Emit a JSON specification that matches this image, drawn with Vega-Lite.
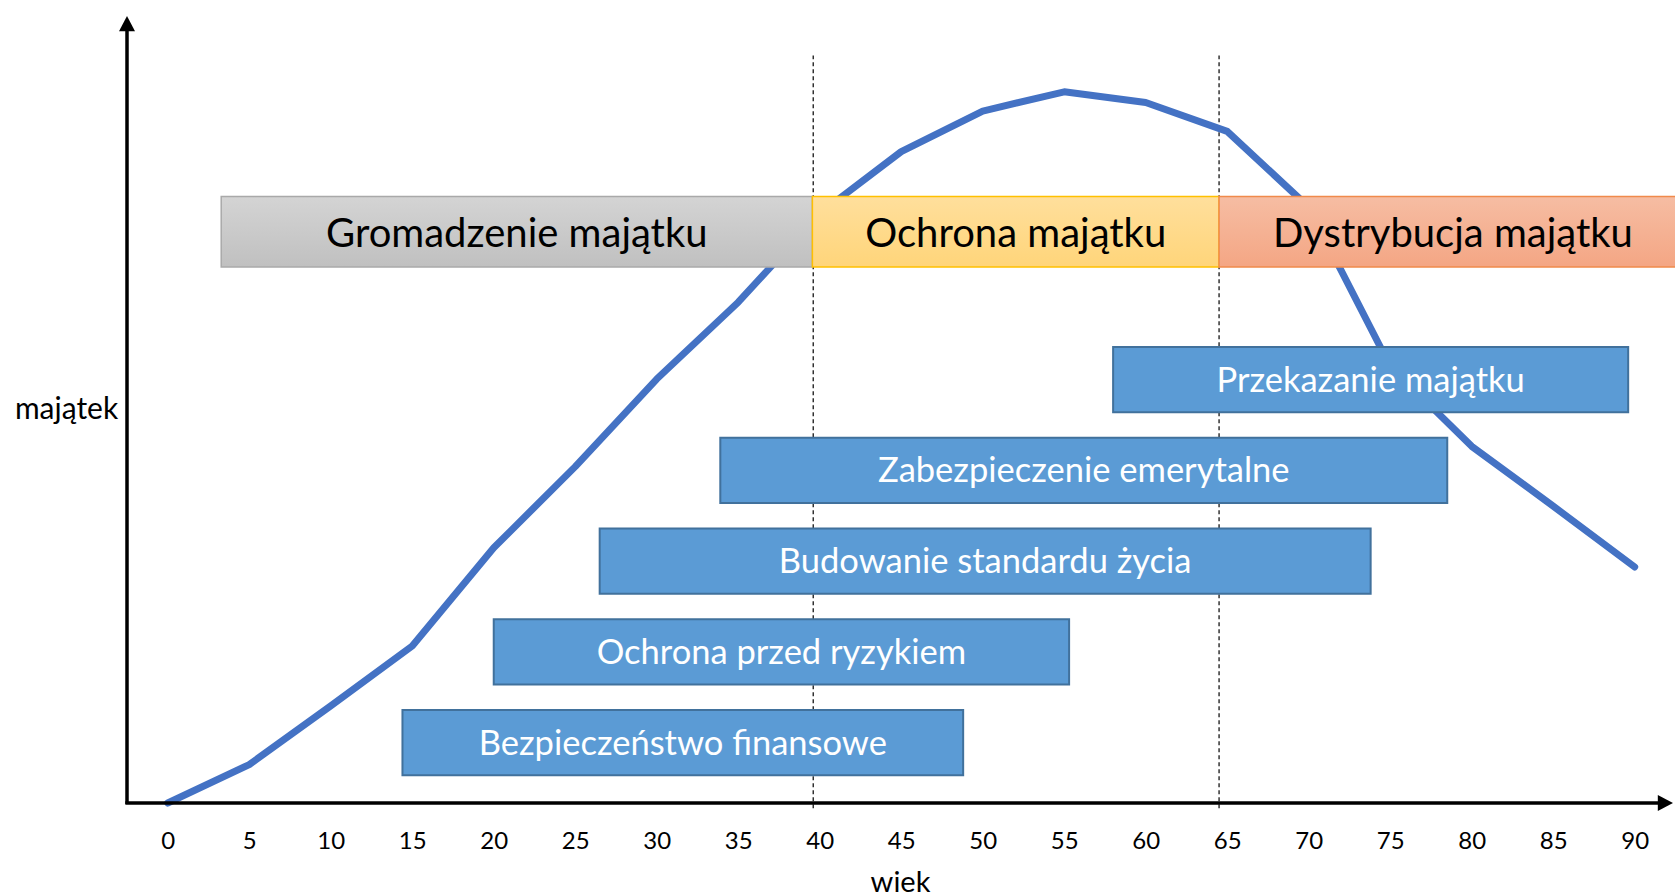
{
  "$schema": "https://vega.github.io/schema/vega-lite/v6.json",
  "width": 1546,
  "height": 787,
  "autosize": {"type": "none"},
  "padding": {"left": 127, "top": 16, "right": 2, "bottom": 93},
  "background": "white",
  "config": {"view": {"stroke": null}, "font": "Lato", "text": {"font": "Lato"}},
  "datasets": {
    "curve": [
      {"age": 0, "wealth": 0}, {"age": 5, "wealth": 36}, {"age": 10, "wealth": 91},
      {"age": 15, "wealth": 147}, {"age": 20, "wealth": 239}, {"age": 25, "wealth": 315},
      {"age": 30, "wealth": 397}, {"age": 35, "wealth": 469}, {"age": 40, "wealth": 552},
      {"age": 45, "wealth": 610}, {"age": 50, "wealth": 648}, {"age": 55, "wealth": 666},
      {"age": 60, "wealth": 656}, {"age": 65, "wealth": 629}, {"age": 70, "wealth": 558},
      {"age": 75, "wealth": 409}, {"age": 80, "wealth": 334}, {"age": 85, "wealth": 278},
      {"age": 90, "wealth": 221}
    ],
    "dividers": [{"age": 39.6}, {"age": 64.5}],
    "phases": [
      {"phase": "Gromadzenie majątku", "start": 3.28, "end": 39.55, "lo": 502, "hi": 568},
      {"phase": "Ochrona majątku", "start": 39.55, "end": 64.5, "lo": 502, "hi": 568},
      {"phase": "Dystrybucja majątku", "start": 64.5, "end": 93.2, "lo": 502, "hi": 568}
    ],
    "tasks": [
      {"task": "Przekazanie majątku", "start": 58.0, "end": 89.6, "lo": 366, "hi": 427},
      {"task": "Zabezpieczenie emerytalne", "start": 33.9, "end": 78.5, "lo": 281, "hi": 342},
      {"task": "Budowanie standardu życia", "start": 26.5, "end": 73.8, "lo": 196, "hi": 257},
      {"task": "Ochrona przed ryzykiem", "start": 20.0, "end": 55.3, "lo": 111, "hi": 172},
      {"task": "Bezpieczeństwo finansowe", "start": 14.4, "end": 48.8, "lo": 26, "hi": 87}
    ]
  },
  "layer": [
    {
      "data": {"name": "dividers"},
      "mark": {"type": "rule", "color": "black", "strokeWidth": 1.2, "strokeDash": [4, 3], "clip": false},
      "encoding": {
        "x": {"field": "age", "type": "quantitative", "scale": {"domain": [-2.5, 92.35], "nice": false, "zero": false},
          "axis": {"values": [0, 5, 10, 15, 20, 25, 30, 35, 40, 45, 50, 55, 60, 65, 70, 75, 80, 85, 90],
            "domain": false, "ticks": false, "grid": false, "labelFlush": false,
            "labelFontSize": 24, "labelColor": "black", "labelFont": "Lato", "labelPadding": 26,
            "title": "wiek", "titleFontSize": 29, "titleFont": "Lato", "titleFontWeight": "normal", "titleColor": "black",
            "titleY": 79, "titleBaseline": "middle"}},
        "y": {"datum": -5, "type": "quantitative", "scale": {"domain": [0, 737], "nice": false, "zero": false},
          "axis": {"domain": false, "ticks": false, "labels": false, "grid": false,
            "title": "majątek", "titleAngle": 0, "titleX": -61, "titleY": 393, "titleAlign": "center",
            "titleBaseline": "middle", "titleFontSize": 30, "titleFont": "Lato", "titleFontWeight": "normal", "titleColor": "black"}},
        "y2": {"datum": 700}
      }
    },
    {
      "data": {"name": "curve"},
      "mark": {"type": "line", "color": "#4472C4", "strokeWidth": 7, "strokeCap": "round", "strokeJoin": "round", "clip": false},
      "encoding": {
        "x": {"field": "age", "type": "quantitative"},
        "y": {"field": "wealth", "type": "quantitative"}
      }
    },
    {
      "data": {"values": [{}]},
      "mark": {"type": "rule", "color": "black", "strokeWidth": 3.5, "clip": false},
      "encoding": {
        "x": {"datum": -2.6}, "x2": {"datum": 91.5},
        "y": {"datum": 0}
      }
    },
    {
      "data": {"values": [{}]},
      "mark": {"type": "rule", "color": "black", "strokeWidth": 3.5, "clip": false},
      "encoding": {
        "x": {"datum": -2.5},
        "y": {"datum": -1}, "y2": {"datum": 724}
      }
    },
    {
      "data": {"values": [{}]},
      "mark": {"type": "point", "shape": "M0,0L0.5,0.95L-0.5,0.95Z", "size": 1024, "filled": true, "color": "black", "opacity": 1, "strokeWidth": 0, "clip": false},
      "encoding": {"x": {"datum": -2.5}, "y": {"datum": 737}}
    },
    {
      "data": {"values": [{}]},
      "mark": {"type": "point", "shape": "M0,0L-0.95,-0.5L-0.95,0.5Z", "size": 1024, "filled": true, "color": "black", "opacity": 1, "strokeWidth": 0, "clip": false},
      "encoding": {"x": {"datum": 92.35}, "y": {"datum": 0}}
    },
    {
      "data": {"name": "phases"},
      "transform": [{"filter": "datum.phase === 'Gromadzenie majątku'"}],
      "mark": {"type": "rect", "clip": false, "stroke": "#A9A9A9", "strokeWidth": 1.5,
        "fill": {"gradient": "linear", "x1": 0, "y1": 0, "x2": 0, "y2": 1, "stops": [{"offset": 0, "color": "#D4D4D4"}, {"offset": 1, "color": "#C0C0C0"}]}},
      "encoding": {
        "x": {"field": "start", "type": "quantitative"}, "x2": {"field": "end"},
        "y": {"field": "lo", "type": "quantitative"}, "y2": {"field": "hi"}
      }
    },
    {
      "data": {"name": "phases"},
      "transform": [{"filter": "datum.phase === 'Ochrona majątku'"}],
      "mark": {"type": "rect", "clip": false, "stroke": "#FFC000", "strokeWidth": 1.5,
        "fill": {"gradient": "linear", "x1": 0, "y1": 0, "x2": 0, "y2": 1, "stops": [{"offset": 0, "color": "#FFDF9C"}, {"offset": 1, "color": "#FFD57A"}]}},
      "encoding": {
        "x": {"field": "start", "type": "quantitative"}, "x2": {"field": "end"},
        "y": {"field": "lo", "type": "quantitative"}, "y2": {"field": "hi"}
      }
    },
    {
      "data": {"name": "phases"},
      "transform": [{"filter": "datum.phase === 'Dystrybucja majątku'"}],
      "mark": {"type": "rect", "clip": false, "stroke": "#F08A4B", "strokeWidth": 1.5,
        "fill": {"gradient": "linear", "x1": 0, "y1": 0, "x2": 0, "y2": 1, "stops": [{"offset": 0, "color": "#F6BDA3"}, {"offset": 1, "color": "#F4A684"}]}},
      "encoding": {
        "x": {"field": "start", "type": "quantitative"}, "x2": {"field": "end"},
        "y": {"field": "lo", "type": "quantitative"}, "y2": {"field": "hi"}
      }
    },
    {
      "data": {"name": "phases"},
      "transform": [{"calculate": "(datum.start + datum.end) / 2", "as": "mid"}, {"calculate": "(datum.lo + datum.hi) / 2", "as": "ymid"}],
      "mark": {"type": "text", "fontSize": 40, "color": "black", "align": "center", "baseline": "middle", "dy": 3, "font": "Lato", "clip": false},
      "encoding": {
        "x": {"field": "mid", "type": "quantitative"},
        "y": {"field": "ymid", "type": "quantitative"},
        "text": {"field": "phase"}
      }
    },
    {
      "data": {"name": "tasks"},
      "mark": {"type": "rect", "clip": false, "fill": "#5B9BD5", "stroke": "#41719C", "strokeWidth": 2},
      "encoding": {
        "x": {"field": "start", "type": "quantitative"}, "x2": {"field": "end"},
        "y": {"field": "lo", "type": "quantitative"}, "y2": {"field": "hi"}
      }
    },
    {
      "data": {"name": "tasks"},
      "transform": [{"calculate": "(datum.start + datum.end) / 2", "as": "mid"}, {"calculate": "(datum.lo + datum.hi) / 2", "as": "ymid"}],
      "mark": {"type": "text", "fontSize": 34.5, "color": "white", "align": "center", "baseline": "middle", "dy": 2, "font": "Lato", "clip": false},
      "encoding": {
        "x": {"field": "mid", "type": "quantitative"},
        "y": {"field": "ymid", "type": "quantitative"},
        "text": {"field": "task"}
      }
    }
  ]
}
